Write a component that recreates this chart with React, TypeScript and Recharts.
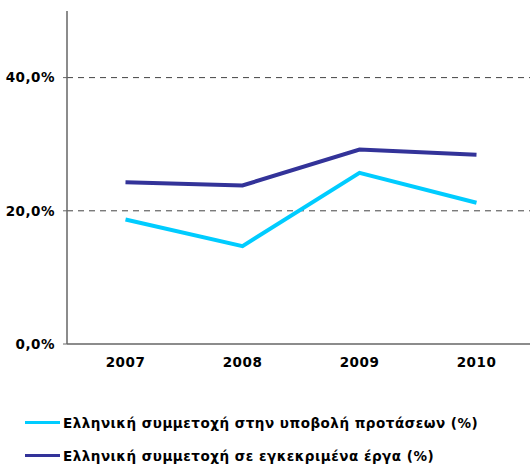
import { CartesianGrid, Line, LineChart, XAxis, YAxis } from 'recharts'

// ─── Data ─────────────────────────────────────────────────────
const years = ['2007', '2008', '2009', '2010']
const submissionShare = [18.7, 14.7, 25.7, 21.2]
const approvedShare = [24.3, 23.8, 29.2, 28.4]
const yTicks = [0, 20, 40]

const SERIES = [
  { key: 'submission', name: 'Ελληνική συμμετοχή στην υποβολή προτάσεων (%)', color: '#00ccff' },
  { key: 'approved', name: 'Ελληνική συμμετοχή σε εγκεκριμένα έργα (%)', color: '#333399' },
]

const data = years.map((year, i) => ({
  year,
  submission: submissionShare[i],
  approved: approvedShare[i],
}))

const FONT = '"DejaVu Sans", Verdana, sans-serif'
const tickStyle = { fontSize: 13.5, fontWeight: 700, fontFamily: FONT, fill: '#000', letterSpacing: 0.5 }

const fmtPct = (v: number) => v.toFixed(1).replace('.', ',') + '%'

export default function App() {
  return (
    <div style={{ position: 'absolute', left: 0, top: 0, width: 530, height: 465, overflow: 'hidden', background: '#fff' }}>
      <LineChart width={540} height={400} data={data} margin={{ top: 11, right: 5, bottom: 0, left: 0 }}>
        <CartesianGrid vertical={false} strokeDasharray="6 5" stroke="#444" horizontalValues={[20, 40]} />
        <XAxis
          dataKey="year"
          scale="band"
          height={56}
          tick={tickStyle}
          tickLine={false}
          tickMargin={7}
          axisLine={{ stroke: '#666', strokeWidth: 1.5 }}
        />
        <YAxis
          width={67}
          domain={[0, 50]}
          ticks={yTicks}
          tickFormatter={fmtPct}
          tick={tickStyle}
          tickSize={4}
          tickMargin={8}
          tickLine={{ stroke: '#666' }}
          axisLine={{ stroke: '#666', strokeWidth: 1.5 }}
        />
        {SERIES.map(s => (
          <Line
            key={s.key}
            type="linear"
            dataKey={s.key}
            name={s.name}
            stroke={s.color}
            strokeWidth={4}
            dot={false}
            isAnimationActive={false}
          />
        ))}
      </LineChart>
      {/* legend */}
      <div style={{ position: 'absolute', left: 25, top: 406, fontFamily: FONT, fontSize: 13.5, fontWeight: 700, letterSpacing: 0.5 }}>
        {SERIES.map(s => (
          <div key={s.key} style={{ display: 'flex', alignItems: 'center', height: 33 }}>
            <span style={{ display: 'inline-block', width: 35, height: 3, background: s.color, marginRight: 3 }} />
            <span>{s.name}</span>
          </div>
        ))}
      </div>
    </div>
  )
}
